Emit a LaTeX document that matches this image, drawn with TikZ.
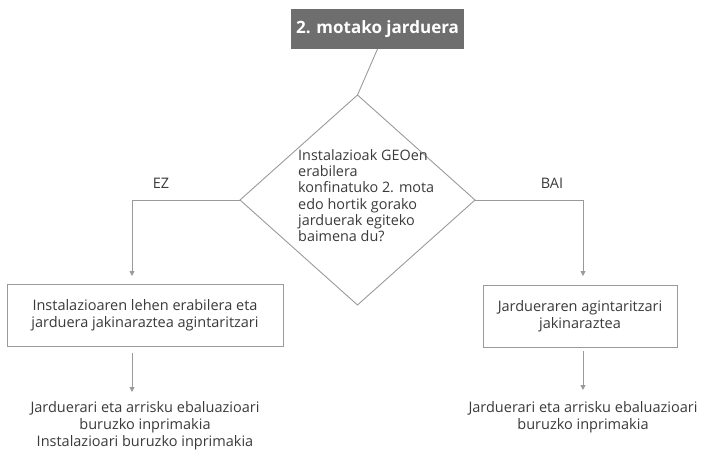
\documentclass[tikz,border=0pt]{standalone}
\usepackage{fontspec}
\setmainfont{Open Sans}
\usetikzlibrary{arrows.meta}
\definecolor{lc}{HTML}{9A9A9A}
\definecolor{tc}{HTML}{3A3A3A}
\definecolor{hdr}{HTML}{6E6E6E}
\begin{document}
\begin{tikzpicture}[x=1pt,y=-1pt,
  conn/.style={draw=lc, line width=0.9pt},
  arr/.style={conn, -{Triangle[length=5pt,width=5pt]}},
  txt/.style={text=tc, font=\fontsize{14.5}{17.5}\selectfont, align=center, inner sep=0pt},
  boxn/.style={draw=lc, line width=0.9pt, fill=white},
]
\useasboundingbox (0,0) rectangle (702,452);
% header
\node[fill=hdr, minimum width=173pt, minimum height=40pt, inner sep=0pt,
      text=white, font=\fontsize{17}{20}\bfseries\selectfont] (hdr) at (377.5,29) {2. motako jarduera};
% diamond
\coordinate (dt) at (357.5,95);
\coordinate (dl) at (240,200);
\coordinate (dr) at (475,200);
\coordinate (db) at (357.5,305);
\draw[conn] (dt) -- (dr) -- (db) -- (dl) -- cycle;
\node[txt, align=left, anchor=north west, font=\fontsize{14.4}{16.3}\selectfont] (q) at (298,149)
  {Instalazioak GEOen\\erabilera\\konfinatuko 2. mota\\edo hortik gorako\\jarduerak egiteko\\baimena du?};
\draw[conn] (377.5,49) -- (dt);
% boxes
\node[boxn, minimum width=276pt, minimum height=62pt, inner sep=0pt] (lb) at (145,315) {};
\node[txt] at (lb.center) {Instalazioaren lehen erabilera eta\\jarduera jakinaraztea agintaritzari};
\node[boxn, minimum width=194pt, minimum height=62pt, inner sep=0pt] (rb) at (580,316) {};
\node[txt] at (rb.center) {Jardueraren agintaritzari\\jakinaraztea};
% connectors
\coordinate (lc1) at (132,200);
\coordinate (rc1) at (583,200);
\draw[arr] (dl) -- (lc1) -- (132,276);
\draw[arr] (dr) -- (rc1) -- (583,276);
\node[txt] (ez) at (161,183) {EZ};
\node[txt] (bai) at (552,183) {BAI};
% outputs
\coordinate (la) at (132,353);
\coordinate (ra) at (583,351);
\draw[arr] (la) -- (132,392);
\draw[arr] (ra) -- (583,390);
\node[txt, anchor=north, font=\fontsize{14.5}{17}\selectfont] (lo) at (145,401) {Jarduerari eta arrisku ebaluazioari\\buruzko inprimakia\\Instalazioari buruzko inprimakia};
\node[txt, anchor=north, font=\fontsize{14.5}{17}\selectfont] (ro) at (583,401) {Jarduerari eta arrisku ebaluazioari\\buruzko inprimakia};
\end{tikzpicture}
\end{document}
